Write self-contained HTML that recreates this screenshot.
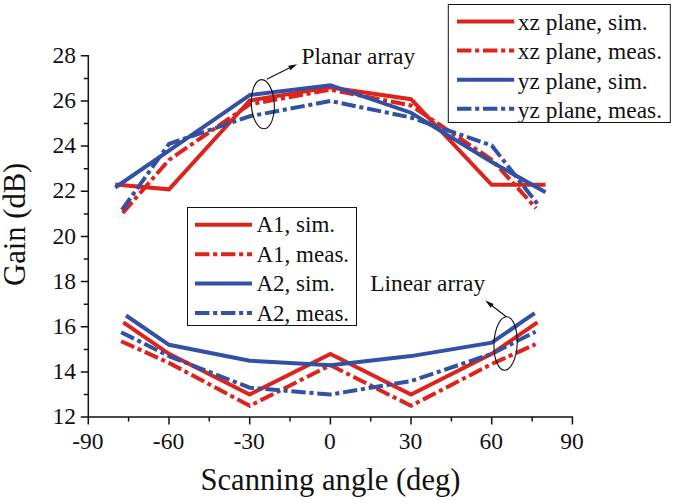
<!DOCTYPE html>
<html><head><meta charset="utf-8"><title>Gain vs scanning angle</title>
<style>
html,body{margin:0;padding:0;background:#fff;}
svg{display:block;}
text{font-family:"Liberation Serif",serif;fill:#111;}
</style></head><body>
<svg width="675" height="503" viewBox="0 0 675 503">
<rect width="675" height="503" fill="#ffffff"/>

<path d="M88.3,55.1 V417.1 H573.1" fill="none" stroke="#111" stroke-width="1.5"/>
<path d="M88.3,417.1 h-7.5 M88.3,394.5 h-4.5 M88.3,371.9 h-7.5 M88.3,349.4 h-4.5 M88.3,326.8 h-7.5 M88.3,304.2 h-4.5 M88.3,281.6 h-7.5 M88.3,259.0 h-4.5 M88.3,236.5 h-7.5 M88.3,213.9 h-4.5 M88.3,191.3 h-7.5 M88.3,168.7 h-4.5 M88.3,146.1 h-7.5 M88.3,123.6 h-4.5 M88.3,101.0 h-7.5 M88.3,78.4 h-4.5 M88.3,55.8 h-7.5 M88.3,417.1 v7.5 M128.6,417.1 v4.5 M169.0,417.1 v7.5 M209.3,417.1 v4.5 M249.7,417.1 v7.5 M290.0,417.1 v4.5 M330.4,417.1 v7.5 M370.7,417.1 v4.5 M411.0,417.1 v7.5 M451.4,417.1 v4.5 M491.7,417.1 v7.5 M532.1,417.1 v4.5 M572.4,417.1 v7.5" fill="none" stroke="#111" stroke-width="1.5"/>
<g font-size="23.5">
<text x="76" y="424.1" text-anchor="end">12</text>
<text x="76" y="378.9" text-anchor="end">14</text>
<text x="76" y="333.8" text-anchor="end">16</text>
<text x="76" y="288.6" text-anchor="end">18</text>
<text x="76" y="243.5" text-anchor="end">20</text>
<text x="76" y="198.3" text-anchor="end">22</text>
<text x="76" y="153.1" text-anchor="end">24</text>
<text x="76" y="108.0" text-anchor="end">26</text>
<text x="76" y="62.8" text-anchor="end">28</text>
<text x="87.8" y="448.5" text-anchor="middle">-90</text>
<text x="168.5" y="448.5" text-anchor="middle">-60</text>
<text x="249.2" y="448.5" text-anchor="middle">-30</text>
<text x="329.9" y="448.5" text-anchor="middle">0</text>
<text x="410.5" y="448.5" text-anchor="middle">30</text>
<text x="491.2" y="448.5" text-anchor="middle">60</text>
<text x="571.9" y="448.5" text-anchor="middle">90</text>
</g>
<text x="330.5" y="490.3" font-size="30.6" text-anchor="middle">Scanning angle (deg)</text>
<text transform="translate(25,224.3) rotate(-90)" font-size="30.6" text-anchor="middle">Gain (dB)</text>
<polyline points="115.2,184.5 169.0,189.3 249.7,100.5 330.4,87.4 411.0,99.2 491.7,184.8 545.5,184.8" fill="none" stroke="#dc241d" stroke-width="4" stroke-linejoin="miter"/>
<polyline points="122.7,213.0 169.0,159.9 249.7,104.4 330.4,89.7 411.0,105.5 491.7,159.7 536.1,208.2" fill="none" stroke="#dc241d" stroke-width="4" stroke-linejoin="miter" stroke-dasharray="14.4 3.7 4.1 3.8"/>
<polyline points="115.2,187.5 169.0,150.7 249.7,95.1 330.4,85.2 411.0,112.7 491.7,161.9 545.5,192.2" fill="none" stroke="#3351a4" stroke-width="4" stroke-linejoin="miter"/>
<polyline points="121.9,210.0 169.0,143.9 249.7,116.3 330.4,101.0 411.0,117.5 491.7,145.5 538.2,204.8" fill="none" stroke="#3351a4" stroke-width="4" stroke-linejoin="miter" stroke-dasharray="14.4 3.7 4.1 3.8"/>
<polyline points="123.3,322.3 169.0,353.9 249.7,394.5 330.4,353.9 411.0,394.5 491.7,353.9 537.4,322.3" fill="none" stroke="#dc241d" stroke-width="4" stroke-linejoin="miter"/>
<polyline points="121.1,341.2 169.0,362.9 249.7,405.8 330.4,365.2 411.0,405.8 491.7,364.0 535.6,344.2" fill="none" stroke="#dc241d" stroke-width="4" stroke-linejoin="miter" stroke-dasharray="14.4 3.7 4.1 3.8"/>
<polyline points="126.0,315.5 169.0,344.8 249.7,360.7 330.4,365.2 411.0,356.1 491.7,342.6 534.7,313.2" fill="none" stroke="#3351a4" stroke-width="4" stroke-linejoin="miter"/>
<polyline points="121.1,332.2 169.0,356.1 249.7,387.7 330.4,394.5 411.0,381.0 491.7,353.9 535.6,331.7" fill="none" stroke="#3351a4" stroke-width="4" stroke-linejoin="miter" stroke-dasharray="14.4 3.7 4.1 3.8"/>
<rect x="448.3" y="4.5" width="222" height="118" fill="#fff" stroke="#111" stroke-width="1"/>
<line x1="457" y1="21.5" x2="514.2" y2="21.5" stroke="#dc241d" stroke-width="4"/>
<text x="517.8" y="30.3" font-size="23.4">xz plane, sim.</text>
<line x1="457" y1="50.6" x2="514.2" y2="50.6" stroke="#dc241d" stroke-width="4" stroke-dasharray="14.4 3.7 4.1 3.8"/>
<text x="517.8" y="59.4" font-size="23.4">xz plane, meas.</text>
<line x1="457" y1="79.7" x2="514.2" y2="79.7" stroke="#3351a4" stroke-width="4"/>
<text x="517.8" y="88.5" font-size="23.4">yz plane, sim.</text>
<line x1="457" y1="108.80000000000001" x2="514.2" y2="108.80000000000001" stroke="#3351a4" stroke-width="4" stroke-dasharray="14.4 3.7 4.1 3.8"/>
<text x="517.8" y="117.6" font-size="23.4">yz plane, meas.</text>
<rect x="187.5" y="207.5" width="169" height="118" fill="#fff" stroke="#111" stroke-width="1"/>
<line x1="195" y1="224.8" x2="252" y2="224.8" stroke="#dc241d" stroke-width="4"/>
<text x="256.5" y="232.4" font-size="23">A1, sim.</text>
<line x1="195" y1="254.20000000000002" x2="252" y2="254.20000000000002" stroke="#dc241d" stroke-width="4" stroke-dasharray="14.4 3.7 4.1 3.8"/>
<text x="256.5" y="261.8" font-size="23">A1, meas.</text>
<line x1="195" y1="283.6" x2="252" y2="283.6" stroke="#3351a4" stroke-width="4"/>
<text x="256.5" y="291.2" font-size="23">A2, sim.</text>
<line x1="195" y1="313.0" x2="252" y2="313.0" stroke="#3351a4" stroke-width="4" stroke-dasharray="14.4 3.7 4.1 3.8"/>
<text x="256.5" y="320.6" font-size="23">A2, meas.</text>
<ellipse cx="262.8" cy="104.2" rx="11.5" ry="24.6" fill="none" stroke="#111" stroke-width="1.1" transform="rotate(-3.3 262.8 104.2)"/>
<line x1="266.8" y1="79.2" x2="290.2" y2="67.6" stroke="#111" stroke-width="1.1"/><polygon points="297.1,64.2 290.4,70.3 288.2,65.8" fill="#111"/>
<text x="301.5" y="63.8" font-size="23.4">Planar array</text>
<ellipse cx="505.6" cy="343.5" rx="11.6" ry="26.7" fill="none" stroke="#111" stroke-width="1.1" transform="rotate(2.5 505.6 343.5)"/>
<line x1="506.3" y1="316.8" x2="491.4" y2="305.2" stroke="#111" stroke-width="1.1"/><polygon points="485.3,300.5 493.7,303.9 490.6,307.8" fill="#111"/>
<text x="370.2" y="291.3" font-size="23.4">Linear array</text>
</svg></body></html>
